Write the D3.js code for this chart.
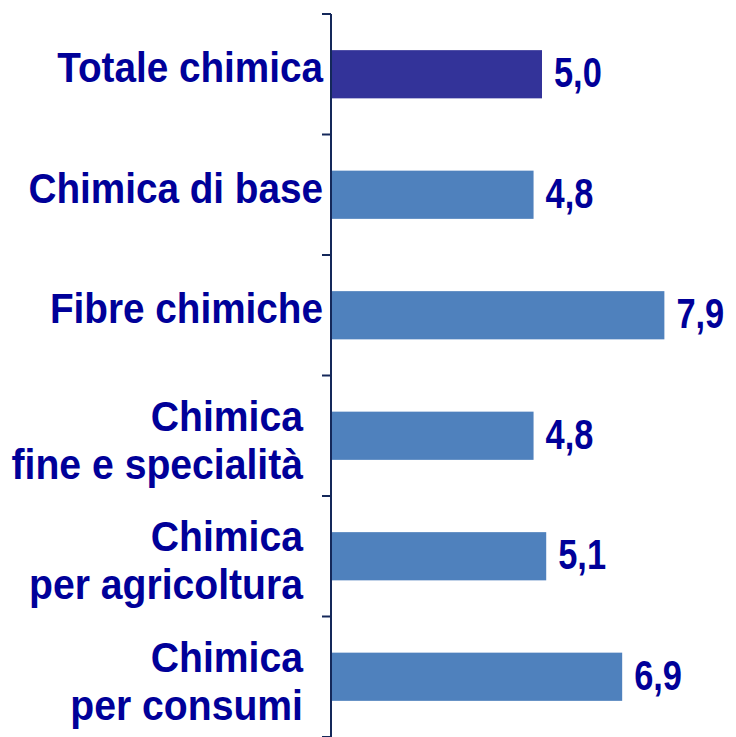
<!DOCTYPE html>
<html>
<head>
<meta charset="utf-8">
<script src="https://cdn.jsdelivr.net/npm/d3@7"></script>
<style>
  body { margin: 0; background: #fff; }
  text { font-family: "Liberation Sans", Arial, sans-serif; font-weight: bold; }
</style>
</head>
<body>
<div id="chart"></div>
<script>
// DATA
var categories = ["Totale chimica", "Chimica di base", "Fibre chimiche",
                  "Chimica fine e specialità", "Chimica per agricoltura", "Chimica per consumi"];
var labelLines = [["Totale chimica"], ["Chimica di base"], ["Fibre chimiche"],
                  ["Chimica", "fine e specialità"], ["Chimica", "per agricoltura"], ["Chimica", "per consumi"]];
var values = [5.0, 4.8, 7.9, 4.8, 5.1, 6.9];
var valueLabels = ["5,0", "4,8", "7,9", "4,8", "5,1", "6,9"];

// SIZES
var width = 736;
var height = 737;
var axisX = 331;
var topY = 14;
var textColor = "#000099";

var svg = d3.select("#chart")
  .append("svg")
  .attr("width", width)
  .attr("height", height);

var yScale = d3.scaleBand()
  .domain(categories)
  .range([topY, height])
  .paddingInner(0.6)
  .paddingOuter(0.3);

var xScale = d3.scaleLinear()
  .domain([0, 10])
  .range([axisX, axisX + 422]);

// tick positions on the category boundaries
var tickScale = d3.scaleLinear()
  .domain([0, categories.length])
  .range([topY, height]);

// bars
svg.selectAll("rect.bar")
  .data(values)
  .enter()
  .append("rect")
  .attr("class", "bar")
  .attr("x", xScale(0))
  .attr("y", function(d, i) { return yScale(categories[i]); })
  .attr("width", function(d) { return xScale(d) - xScale(0); })
  .attr("height", yScale.bandwidth())
  .attr("fill", function(d, i) { return i === 0 ? "#333399" : "#4F81BD"; });

// value labels
svg.selectAll("text.val")
  .data(values)
  .enter()
  .append("text")
  .attr("class", "val")
  .attr("transform", function(d, i) {
    var cy = yScale(categories[i]) + yScale.bandwidth() / 2;
    return "translate(" + (xScale(d) + 12) + "," + (cy + 13) + ") scale(0.8,1)";
  })
  .attr("font-size", "43px")
  .attr("fill", textColor)
  .text(function(d, i) { return valueLabels[i]; });

// axis line + ticks
svg.append("line")
  .attr("x1", axisX).attr("x2", axisX)
  .attr("y1", tickScale(0)).attr("y2", height)
  .attr("stroke", "#14285a")
  .attr("stroke-width", 2);

svg.selectAll("line.tick")
  .data(d3.range(categories.length + 1))
  .enter()
  .append("line")
  .attr("class", "tick")
  .attr("x1", axisX - 9).attr("x2", axisX)
  .attr("y1", function(d) { return tickScale(d); })
  .attr("y2", function(d) { return tickScale(d); })
  .attr("stroke", "#14285a")
  .attr("stroke-width", 2);

// category labels
var labels = svg.selectAll("g.lab")
  .data(labelLines)
  .enter()
  .append("g")
  .attr("class", "lab");

labels.each(function(lines, i) {
  var cy = yScale(categories[i]) + yScale.bandwidth() / 2;
  var g = d3.select(this);
  lines.forEach(function(line, j) {
    var single = lines.length === 1;
    var x = single ? axisX - 8 : axisX - 28;
    var y = single ? cy + 8 : cy - 5 + j * 48;
    g.append("text")
      .attr("transform", "translate(" + x + "," + y + ") scale(" + (single ? 0.9 : 0.91) + ",1)")
      .attr("text-anchor", "end")
      .attr("font-size", "43px")
      .attr("fill", textColor)
      .text(line);
  });
});
</script>
</body>
</html>
